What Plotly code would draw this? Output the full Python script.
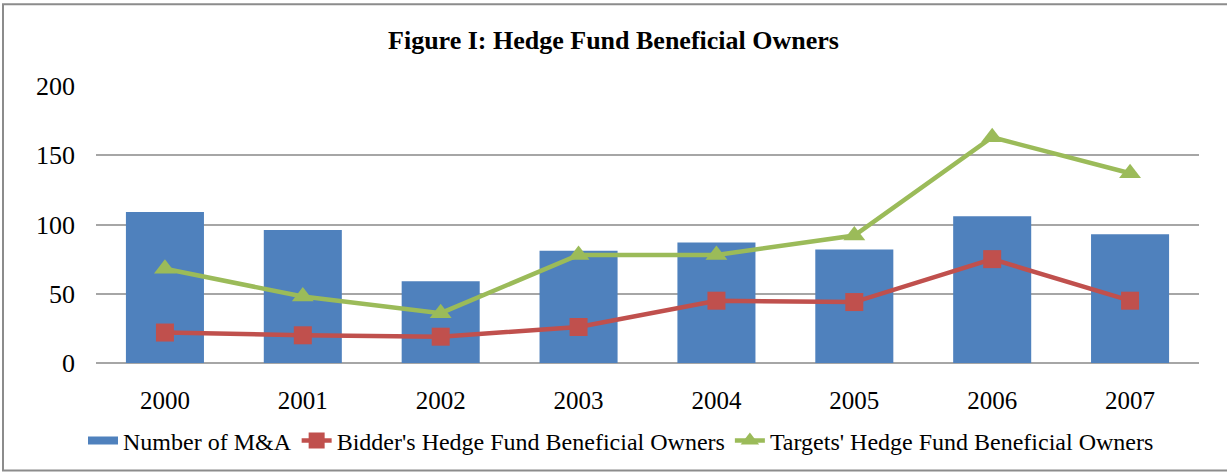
import plotly.graph_objects as go

years = ["2000", "2001", "2002", "2003", "2004", "2005", "2006", "2007"]
num_ma = [109, 96, 59, 81, 87, 82, 106, 93]
bidders = [22, 20, 19, 26, 45, 44, 75, 45]
targets = [68, 48, 36, 78, 78, 92, 163, 137]

W, H = 1227, 474
ML, MR, MT, MB = 96, 28, 86, 110
FONT = "Liberation Serif"
BLUE, RED, GREEN = "#4F81BD", "#C0504D", "#9BBB59"

fig = go.Figure()
fig.add_trace(go.Bar(x=years, y=num_ma, name="Number of M&A", showlegend=False,
                     marker=dict(color=BLUE, line=dict(width=0))))
# legend-only entry to mimic the wide bar swatch
fig.add_trace(go.Scatter(x=[None], y=[None], name="Number of M&A", mode="lines",
                         line=dict(color=BLUE, width=8), hoverinfo="skip"))
fig.add_trace(go.Scatter(x=years, y=bidders, name="Bidder's Hedge Fund Beneficial Owners",
                         mode="lines+markers",
                         line=dict(color=RED, width=4.5),
                         marker=dict(symbol="square", size=18, color=RED)))
fig.add_trace(go.Scatter(x=years, y=targets, name="Targets' Hedge Fund Beneficial Owners",
                         mode="lines+markers",
                         line=dict(color=GREEN, width=4.5),
                         marker=dict(symbol="triangle-up", size=19, color=GREEN)))

pw = W - ML - MR
ph = H - MT - MB
fig.add_shape(type="rect", xref="paper", yref="paper",
              x0=(3 - ML) / pw, x1=(W + 10 - ML) / pw,
              y0=-(472 - MT - ph) / ph, y1=1 + (MT - 4) / ph,
              line=dict(color="#8C8C8C", width=2), fillcolor="rgba(0,0,0,0)", layer="below")

fig.update_layout(
    width=W, height=H,
    margin=dict(l=ML, r=MR, t=MT, b=MB),
    paper_bgcolor="white", plot_bgcolor="white",
    font=dict(family=FONT, color="black"),
    title=dict(text="<b>Figure I: Hedge Fund Beneficial Owners</b>", x=0.5, xanchor="center",
               y=1 - 40 / H, yanchor="middle", font=dict(size=26, family=FONT)),
    bargap=0.434,
    showlegend=True,
    legend=dict(orientation="h", x=(621 - ML) / pw, xanchor="center",
                y=-(441 - MT - ph) / ph, yanchor="middle",
                font=dict(size=24, family=FONT, color="black"), itemwidth=30, tracegroupgap=0,
                bgcolor="rgba(0,0,0,0)"),
)
fig.update_xaxes(showgrid=False, showline=False, ticks="", tickfont=dict(size=25, family=FONT),
                 ticklabelstandoff=20)
fig.update_yaxes(range=[0, 200], dtick=50, showgrid=True, gridcolor="#A6A6A6", gridwidth=1.8,
                 zeroline=True, zerolinecolor="#A6A6A6", zerolinewidth=1.8,
                 showline=False, ticks="", tickfont=dict(size=26, family=FONT),
                 ticklabelstandoff=20)

fig.write_html("out.html", config={"displayModeBar": False},
               post_script="document.body.style.margin='0px';")
